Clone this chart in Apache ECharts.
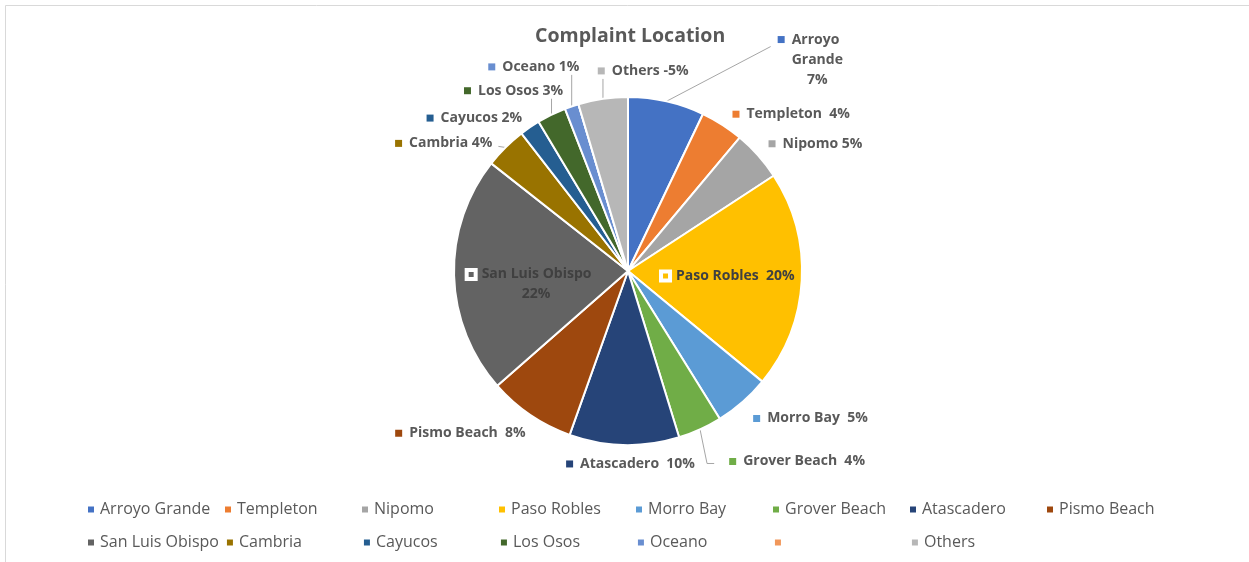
<!DOCTYPE html>
<html>
<head>
<meta charset="utf-8">
<script src="https://cdn.jsdelivr.net/npm/echarts@6/dist/echarts.min.js"></script>
<style>
html,body{margin:0;padding:0;background:#fff;}
#chart{width:1249px;height:562px;}
</style>
</head>
<body>
<div id="chart"></div>
<script>
const names = ['Arroyo Grande','Templeton','Nipomo','Paso Robles','Morro Bay','Grover Beach','Atascadero','Pismo Beach','San Luis Obispo','Cambria','Cayucos','Los Osos','Oceano',' ','Others'];
const values = [7.1,4.0,4.7,20.2,5.2,4.1,10.2,8.1,22.1,3.9,1.9,2.7,1.3,0,4.6];
const labelTexts = ['Arroyo\nGrande\n7%','Templeton  4%','Nipomo 5%','Paso Robles  20%','Morro Bay  5%','Grover Beach  4%','Atascadero  10%','Pismo Beach  8%','San Luis Obispo\n22%','Cambria 4%','Cayucos 2%','Los Osos 3%','Oceano 1%','','Others -5%'];
const colors = ['#4472C4','#ED7D31','#A5A5A5','#FFC000','#5B9BD5','#70AD47','#264478','#9E480E','#636363','#997300','#255E91','#43682B','#698ED0','#F1975A','#B7B7B7'];

// label placement tweaks (offsets relative to default positions) and leader-line routing
const insideIdx = [3, 8];
const labelShift = [[98,-32],[-6,-2],[-8,-5],[10,0],[-7,9],[14,23],[82,9],[12,10],[-9,11],[5,3],[9,-1],[27,-15],[22,-30],[0,0],[98,-18]];
const lineMode = {0: 'diag', 5: 'elbow', 9: 'right', 11: 'up', 12: 'up', 14: 'up'};

const font = 'Open Sans';
const data = names.map((n, i) => {
  const inside = insideIdx.includes(i);
  const tc = inside ? '#404040' : '#595959';
  const rich = {
    t: {fontFamily: font, fontSize: 14, fontWeight: 'bold', color: tc, lineHeight: 20},
    c: {fontFamily: font, fontSize: 14, fontWeight: 'bold', color: tc, lineHeight: 20, align: 'center'},
    g: {width: inside ? 6 : 7, height: 7},
    s: {width: 14, height: 7},
    m: inside
      ? {width: 9, height: 9, borderColor: '#fff', borderWidth: 2, backgroundColor: 'transparent'}
      : {width: 7, height: 7, backgroundColor: colors[i]}
  };
  const lines = labelTexts[i].split('\n');
  const fmt = '{m|}{g|}{t|' + lines[0] + '}' + lines.slice(1).map(l => '\n{s|}{c|' + l + '}').join('');
  return {
    name: n,
    value: values[i],
    itemStyle: {color: colors[i]},
    label: {
      show: labelTexts[i] !== '',
      position: inside ? 'inside' : 'outside',
      formatter: fmt,
      rich: rich
    },
    labelLine: {show: lineMode[i] !== undefined}
  };
});

const chart = echarts.init(document.getElementById('chart'));
chart.setOption({
  animation: false,
  backgroundColor: '#fff',
  graphic: [{
    type: 'rect', shape: {x: 5.5, y: 5.5, width: 1300, height: 600},
    style: {fill: 'none', stroke: '#d9d9d9', lineWidth: 1}, silent: true, z: -1
  }],
  title: {
    text: 'Complaint Location', left: 530, top: 21,
    textStyle: {fontFamily: font, fontSize: 19.5, fontWeight: 'bold', color: '#595959'}
  },
  legend: {
    left: 81, top: 491, width: 1100,
    icon: 'rect', itemWidth: 8, itemHeight: 8, itemGap: 6,
    data: names,
    textStyle: {fontFamily: font, fontSize: 16, color: '#595959', width: 117, height: 27, lineHeight: 27}
  },
  series: [{
    type: 'pie',
    center: [628, 271],
    radius: 174,
    startAngle: 90,
    clockwise: true,
    avoidLabelOverlap: false,
    itemStyle: {borderColor: '#fff', borderWidth: 2},
    label: {fontFamily: font},
    labelLine: {length: 10, length2: 6, lineStyle: {color: '#a6a6a6', width: 1}},
    labelLayout: function (p) {
      const i = p.dataIndex;
      const s = labelShift[i] || [0, 0];
      const out = {dx: s[0], dy: s[1], hideOverlap: false, moveOverlap: null};
      const mode = lineMode[i];
      if (mode && p.labelLinePoints && p.labelRect) {
        const r = p.labelRect;
        const x = r.x + s[0], y = r.y + s[1], w = r.width, h = r.height;
        const p0 = p.labelLinePoints[0];
        let pts;
        if (mode === 'up') pts = [p0, [p0[0], y + h + 1]];
        else if (mode === 'diag') pts = [p0, [x - 7, y + 14]];
        else if (mode === 'right') pts = [p0, [x + w + 6, y + h / 2 + 3]];
        else if (mode === 'elbow') pts = [p0, [p0[0] + 7, y + h / 2 + 2], [x - 15, y + h / 2 + 2]];
        out.labelLinePoints = pts;
      }
      return out;
    },
    data: data
  }]
});
</script>
</body>
</html>
